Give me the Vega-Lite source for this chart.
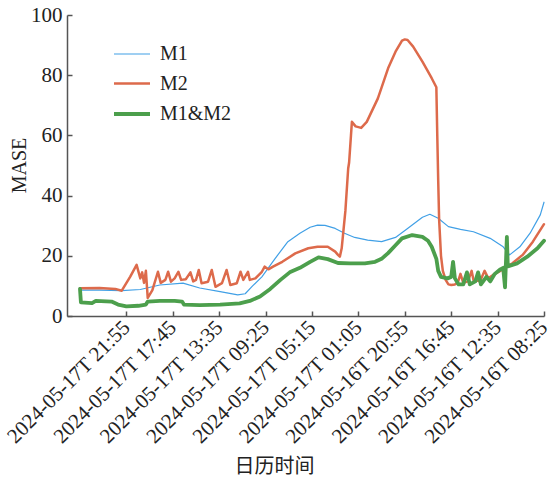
{
  "$schema": "https://vega.github.io/schema/vega-lite/v6.json",
  "width": 477,
  "height": 301,
  "autosize": {"type": "none"},
  "padding": {"left": 67, "top": 15, "right": 10, "bottom": 164},
  "config": {
    "view": {"stroke": null},
    "font": "Liberation Serif",
    "axis": {
      "grid": false,
      "domainColor": "#555555",
      "domainWidth": 1.5,
      "tickColor": "#555555",
      "tickWidth": 1.5,
      "tickSize": -5,
      "labelFont": "Liberation Serif",
      "labelFontSize": 21,
      "labelColor": "#222222",
      "titleFont": "Liberation Serif",
      "titleFontSize": 20,
      "titleFontWeight": "normal",
      "titleColor": "#222222"
    }
  },
  "data": {
    "values": [
      {"s": "M1", "t": 14, "v": 8.6}, {"s": "M1", "t": 35, "v": 8.6}, {"s": "M1", "t": 59, "v": 8.4},
      {"s": "M1", "t": 79, "v": 8.8}, {"s": "M1", "t": 100, "v": 10.3}, {"s": "M1", "t": 125, "v": 10.9},
      {"s": "M1", "t": 143, "v": 9.3}, {"s": "M1", "t": 165, "v": 8.1}, {"s": "M1", "t": 184, "v": 7.0},
      {"s": "M1", "t": 192, "v": 7.4}, {"s": "M1", "t": 200, "v": 10}, {"s": "M1", "t": 210, "v": 13},
      {"s": "M1", "t": 224, "v": 19}, {"s": "M1", "t": 238, "v": 24.7}, {"s": "M1", "t": 251, "v": 27.5},
      {"s": "M1", "t": 262, "v": 29.5}, {"s": "M1", "t": 270, "v": 30.2}, {"s": "M1", "t": 278, "v": 30.1},
      {"s": "M1", "t": 289, "v": 29.1}, {"s": "M1", "t": 299, "v": 27.5}, {"s": "M1", "t": 310, "v": 26.1},
      {"s": "M1", "t": 324, "v": 25.2}, {"s": "M1", "t": 339, "v": 24.7}, {"s": "M1", "t": 354, "v": 26.1},
      {"s": "M1", "t": 367, "v": 29.1}, {"s": "M1", "t": 383, "v": 32.8}, {"s": "M1", "t": 391, "v": 33.8},
      {"s": "M1", "t": 400, "v": 32.5}, {"s": "M1", "t": 411, "v": 29.7}, {"s": "M1", "t": 424, "v": 28.8},
      {"s": "M1", "t": 438, "v": 28}, {"s": "M1", "t": 456, "v": 25.8}, {"s": "M1", "t": 470, "v": 23},
      {"s": "M1", "t": 477, "v": 20.3}, {"s": "M1", "t": 488, "v": 23}, {"s": "M1", "t": 499, "v": 27.5},
      {"s": "M1", "t": 510, "v": 33.6}, {"s": "M1", "t": 514, "v": 37.8},

      {"s": "M2", "t": 14, "v": 9.2}, {"s": "M2", "t": 35, "v": 9.3}, {"s": "M2", "t": 52, "v": 9.0},
      {"s": "M2", "t": 59, "v": 8.4}, {"s": "M2", "t": 68, "v": 13}, {"s": "M2", "t": 75, "v": 17},
      {"s": "M2", "t": 79, "v": 12.5}, {"s": "M2", "t": 81, "v": 14.5}, {"s": "M2", "t": 83, "v": 11},
      {"s": "M2", "t": 85, "v": 15}, {"s": "M2", "t": 87, "v": 6.0}, {"s": "M2", "t": 92, "v": 8.6},
      {"s": "M2", "t": 98, "v": 14.7}, {"s": "M2", "t": 101, "v": 11}, {"s": "M2", "t": 106, "v": 12},
      {"s": "M2", "t": 109, "v": 14.7}, {"s": "M2", "t": 112, "v": 11.4}, {"s": "M2", "t": 116, "v": 12.5},
      {"s": "M2", "t": 120, "v": 14.7}, {"s": "M2", "t": 123, "v": 12}, {"s": "M2", "t": 128, "v": 12.2},
      {"s": "M2", "t": 133, "v": 14.5}, {"s": "M2", "t": 136, "v": 11.5}, {"s": "M2", "t": 139, "v": 12},
      {"s": "M2", "t": 142, "v": 15.3}, {"s": "M2", "t": 145, "v": 10.9}, {"s": "M2", "t": 152, "v": 11.4},
      {"s": "M2", "t": 156, "v": 15.3}, {"s": "M2", "t": 160, "v": 9.7}, {"s": "M2", "t": 167, "v": 10.9},
      {"s": "M2", "t": 172, "v": 15.3}, {"s": "M2", "t": 176, "v": 10.3}, {"s": "M2", "t": 183, "v": 10.9},
      {"s": "M2", "t": 187, "v": 14.7}, {"s": "M2", "t": 190, "v": 12}, {"s": "M2", "t": 195, "v": 14.7},
      {"s": "M2", "t": 197, "v": 12}, {"s": "M2", "t": 203, "v": 12.5}, {"s": "M2", "t": 210, "v": 14.7},
      {"s": "M2", "t": 213, "v": 16.4}, {"s": "M2", "t": 217, "v": 15.5}, {"s": "M2", "t": 222, "v": 16.4},
      {"s": "M2", "t": 232, "v": 18}, {"s": "M2", "t": 246, "v": 20.8}, {"s": "M2", "t": 260, "v": 22.5},
      {"s": "M2", "t": 270, "v": 23}, {"s": "M2", "t": 281, "v": 23}, {"s": "M2", "t": 289, "v": 21.4},
      {"s": "M2", "t": 292, "v": 20.3}, {"s": "M2", "t": 294, "v": 19.7}, {"s": "M2", "t": 296, "v": 22.5},
      {"s": "M2", "t": 300, "v": 35}, {"s": "M2", "t": 303, "v": 49}, {"s": "M2", "t": 304, "v": 51},
      {"s": "M2", "t": 306, "v": 60}, {"s": "M2", "t": 307, "v": 64.5}, {"s": "M2", "t": 311, "v": 63},
      {"s": "M2", "t": 317, "v": 62.5}, {"s": "M2", "t": 323, "v": 64.5}, {"s": "M2", "t": 335, "v": 72.3},
      {"s": "M2", "t": 346, "v": 82.3}, {"s": "M2", "t": 354, "v": 87.8}, {"s": "M2", "t": 361, "v": 91.5},
      {"s": "M2", "t": 364, "v": 91.9}, {"s": "M2", "t": 367, "v": 91.7}, {"s": "M2", "t": 373, "v": 89.5},
      {"s": "M2", "t": 383, "v": 84.5}, {"s": "M2", "t": 393, "v": 79}, {"s": "M2", "t": 398, "v": 76},
      {"s": "M2", "t": 399, "v": 60}, {"s": "M2", "t": 400, "v": 45}, {"s": "M2", "t": 401, "v": 32},
      {"s": "M2", "t": 403, "v": 20}, {"s": "M2", "t": 405, "v": 15}, {"s": "M2", "t": 408, "v": 12},
      {"s": "M2", "t": 411, "v": 10.5}, {"s": "M2", "t": 414, "v": 10.3}, {"s": "M2", "t": 418, "v": 10.5},
      {"s": "M2", "t": 421, "v": 11}, {"s": "M2", "t": 424, "v": 14}, {"s": "M2", "t": 427, "v": 11},
      {"s": "M2", "t": 432, "v": 11.5}, {"s": "M2", "t": 436, "v": 15}, {"s": "M2", "t": 438, "v": 12},
      {"s": "M2", "t": 445, "v": 11.5}, {"s": "M2", "t": 450, "v": 15}, {"s": "M2", "t": 454, "v": 12.5},
      {"s": "M2", "t": 461, "v": 14}, {"s": "M2", "t": 467, "v": 15}, {"s": "M2", "t": 472, "v": 16},
      {"s": "M2", "t": 480, "v": 17.5}, {"s": "M2", "t": 491, "v": 20.3}, {"s": "M2", "t": 502, "v": 24.7},
      {"s": "M2", "t": 514, "v": 30.5},

      {"s": "M1&M2", "t": 14, "v": 9.0}, {"s": "M1&M2", "t": 15, "v": 4.5}, {"s": "M1&M2", "t": 27, "v": 4.3},
      {"s": "M1&M2", "t": 31, "v": 5.0}, {"s": "M1&M2", "t": 48, "v": 4.8}, {"s": "M1&M2", "t": 55, "v": 3.8},
      {"s": "M1&M2", "t": 64, "v": 3.2}, {"s": "M1&M2", "t": 77, "v": 3.4}, {"s": "M1&M2", "t": 85, "v": 3.8},
      {"s": "M1&M2", "t": 87, "v": 4.8}, {"s": "M1&M2", "t": 100, "v": 5.0}, {"s": "M1&M2", "t": 116, "v": 5.0},
      {"s": "M1&M2", "t": 124, "v": 4.8}, {"s": "M1&M2", "t": 126, "v": 3.8}, {"s": "M1&M2", "t": 143, "v": 3.6},
      {"s": "M1&M2", "t": 165, "v": 3.8}, {"s": "M1&M2", "t": 186, "v": 4.2}, {"s": "M1&M2", "t": 197, "v": 5.0},
      {"s": "M1&M2", "t": 208, "v": 6.5}, {"s": "M1&M2", "t": 219, "v": 9}, {"s": "M1&M2", "t": 230, "v": 12},
      {"s": "M1&M2", "t": 240, "v": 14.5}, {"s": "M1&M2", "t": 251, "v": 16}, {"s": "M1&M2", "t": 262, "v": 18},
      {"s": "M1&M2", "t": 271, "v": 19.5}, {"s": "M1&M2", "t": 281, "v": 18.9}, {"s": "M1&M2", "t": 292, "v": 17.6},
      {"s": "M1&M2", "t": 305, "v": 17.5}, {"s": "M1&M2", "t": 321, "v": 17.5}, {"s": "M1&M2", "t": 332, "v": 18},
      {"s": "M1&M2", "t": 339, "v": 19}, {"s": "M1&M2", "t": 346, "v": 20.9}, {"s": "M1&M2", "t": 354, "v": 23.5},
      {"s": "M1&M2", "t": 361, "v": 25.8}, {"s": "M1&M2", "t": 372, "v": 26.9}, {"s": "M1&M2", "t": 383, "v": 26.3},
      {"s": "M1&M2", "t": 389, "v": 25}, {"s": "M1&M2", "t": 393, "v": 23}, {"s": "M1&M2", "t": 398, "v": 19},
      {"s": "M1&M2", "t": 400, "v": 15}, {"s": "M1&M2", "t": 403, "v": 13}, {"s": "M1&M2", "t": 410, "v": 12.5},
      {"s": "M1&M2", "t": 414, "v": 13}, {"s": "M1&M2", "t": 416, "v": 18}, {"s": "M1&M2", "t": 418, "v": 12.5},
      {"s": "M1&M2", "t": 422, "v": 10.5}, {"s": "M1&M2", "t": 427, "v": 10.5}, {"s": "M1&M2", "t": 431, "v": 14.5},
      {"s": "M1&M2", "t": 434, "v": 10.5}, {"s": "M1&M2", "t": 440, "v": 11.5}, {"s": "M1&M2", "t": 443, "v": 14.5},
      {"s": "M1&M2", "t": 446, "v": 10.5}, {"s": "M1&M2", "t": 452, "v": 13}, {"s": "M1&M2", "t": 456, "v": 11.5},
      {"s": "M1&M2", "t": 461, "v": 14}, {"s": "M1&M2", "t": 467, "v": 15.5}, {"s": "M1&M2", "t": 470, "v": 16},
      {"s": "M1&M2", "t": 472, "v": 9.5}, {"s": "M1&M2", "t": 474, "v": 26.3}, {"s": "M1&M2", "t": 475, "v": 16.5},
      {"s": "M1&M2", "t": 485, "v": 17.5}, {"s": "M1&M2", "t": 496, "v": 19.7}, {"s": "M1&M2", "t": 507, "v": 22.5},
      {"s": "M1&M2", "t": 514, "v": 25}
    ]
  },
  "encoding": {
    "x": {
      "field": "t",
      "type": "quantitative",
      "scale": {"domain": [0, 514], "nice": false, "zero": false},
      "axis": {
        "title": "日历时间",
        "titleFont": "Noto Sans CJK SC",
        "titleX": 207,
        "titleY": 150,
        "titleAlign": "center",
        "titleBaseline": "middle",
        "values": [64, 114, 164, 214, 264, 314, 364, 414, 464, 514],
        "labelExpr": "['2024-05-17T 21:55','2024-05-17T 17:45','2024-05-17T 13:35','2024-05-17T 09:25','2024-05-17T 05:15','2024-05-17T 01:05','2024-05-16T 20:55','2024-05-16T 16:45','2024-05-16T 12:35','2024-05-16T 08:25'][(datum.value - 64) / 50]",
        "labelAngle": -45,
        "labelAlign": "right",
        "labelBaseline": "middle",
        "labelPadding": 13,
        "labelOverlap": false,
        "labelBound": false
      }
    },
    "y": {
      "field": "v",
      "type": "quantitative",
      "scale": {"domain": [0, 100], "nice": false},
      "axis": {
        "title": "MASE",
        "values": [0, 20, 40, 60, 80, 100],
        "titleX": -48,
        "titleY": 150,
        "titleAlign": "center",
        "titleBaseline": "middle",
        "labelPadding": 10,
        "labelOverlap": false,
        "labelBound": false
      }
    },
    "color": {
      "field": "s",
      "type": "nominal",
      "scale": {"domain": ["M1", "M2", "M1&M2"], "range": ["#41a0e6", "#dd6a4b", "#4c9f4c"]},
      "legend": {
        "title": null,
        "orient": "none",
        "legendX": 45,
        "legendY": 20,
        "padding": 0,
        "symbolType": "stroke",
        "symbolSize": 1296,
        "labelFont": "Liberation Serif",
        "labelFontSize": 20,
        "labelColor": "#222222",
        "labelOffset": 8,
        "rowPadding": -11
      }
    },
    "strokeWidth": {
      "field": "s",
      "type": "ordinal",
      "scale": {"domain": ["M1", "M2", "M1&M2"], "range": [1.2, 3.8, 6.5]}
    }
  },
  "layer": [
    {"transform": [{"filter": "datum.s === 'M1'"}], "mark": {"type": "line", "strokeCap": "round", "strokeJoin": "round"}},
    {"transform": [{"filter": "datum.s === 'M2'"}], "mark": {"type": "line", "strokeCap": "round", "strokeJoin": "round"}},
    {"transform": [{"filter": "datum.s === 'M1&M2'"}], "mark": {"type": "line", "strokeCap": "round", "strokeJoin": "round"}}
  ]
}
